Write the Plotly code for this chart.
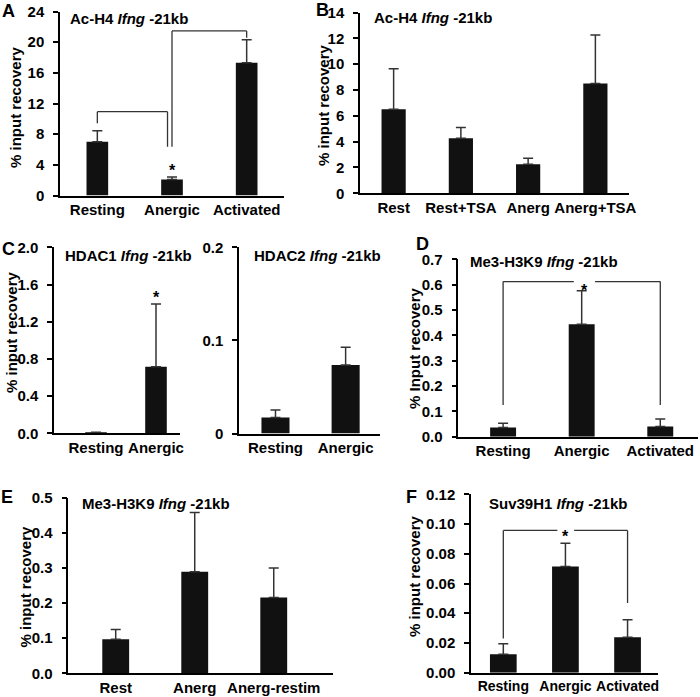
import plotly.graph_objects as go

W, H = 700, 697
FONT = "Liberation Sans, Arial, sans-serif"

# ---------------- data ----------------
a_cats = ["Resting", "Anergic", "Activated"]
a_vals = [7.0, 2.1, 17.3]
a_errs = [1.45, 0.3, 3.0]

b_cats = ["Rest", "Rest+TSA", "Anerg", "Anerg+TSA"]
b_vals = [6.5, 4.26, 2.25, 8.5]
b_errs = [3.15, 0.83, 0.46, 3.75]

c1_cats = ["Resting", "Anergic"]
c1_vals = [0.008, 0.716]
c1_errs = [0.004, 0.675]

c2_cats = ["Resting", "Anergic"]
c2_vals = [0.0172, 0.0736]
c2_errs = [0.008, 0.019]

d_cats = ["Resting", "Anergic", "Activated"]
d_vals = [0.036, 0.444, 0.040]
d_errs = [0.017, 0.132, 0.030]

e_cats = ["Rest", "Anerg", "Anerg-restim"]
e_vals = [0.097, 0.289, 0.216]
e_errs = [0.028, 0.169, 0.084]

f_cats = ["Resting", "Anergic", "Activated"]
f_vals = [0.0124, 0.0715, 0.0239]
f_errs = [0.007, 0.0155, 0.0117]

a_ticks = [0, 4, 8, 12, 16, 20, 24]
b_ticks = [0, 2, 4, 6, 8, 10, 12, 14]
c1_ticks = [0.0, 0.4, 0.8, 1.2, 1.6, 2.0]
c2_ticks = [0, 0.1, 0.2]
c2_labels = ["0", "0.1", "0.2"]
d_ticks = [0.0, 0.1, 0.2, 0.3, 0.4, 0.5, 0.6, 0.7]
e_ticks = [0.0, 0.1, 0.2, 0.3, 0.4, 0.5]
f_ticks = [0.00, 0.02, 0.04, 0.06, 0.08, 0.10, 0.12]


def xd(p0, p1):
    return [p0 / W, p1 / W]


def yd(top, bottom):
    return [(H - bottom) / H, (H - top) / H]


# name, cats, vals, errs, ticks, labels, yrange, xrange, xdomain, ydomain, bar width, x label size
panels = [
    ("A", a_cats, a_vals, a_errs, a_ticks, [str(t) for t in a_ticks], [0, 24], [-0.5, 2.5], xd(60, 284), yd(11.5, 195.5), 0.29, 15),
    ("B", b_cats, b_vals, b_errs, b_ticks, [str(t) for t in b_ticks], [0, 14], [-0.5, 3.5], xd(360, 629), yd(12.5, 193.3), 0.36, 15),
    ("C1", c1_cats, c1_vals, c1_errs, c1_ticks, ["%.1f" % t for t in c1_ticks], [0, 2.0], [-0.7, 1.4], xd(54, 180), yd(247.3, 433.3), 0.36, 15),
    ("C2", c2_cats, c2_vals, c2_errs, c2_ticks, c2_labels, [0, 0.2], [-0.52, 1.49], xd(239, 380), yd(247.3, 433.5), 0.40, 15),
    ("D", d_cats, d_vals, d_errs, d_ticks, ["%.1f" % t for t in d_ticks], [0, 0.7], [-0.57, 2.48], xd(458.3, 698), yd(259.3, 436.7), 0.33, 15),
    ("E", e_cats, e_vals, e_errs, e_ticks, ["%.1f" % t for t in e_ticks], [0, 0.5], [-0.6, 2.75], xd(68.3, 333), yd(497.7, 673.3), 0.34, 15),
    ("F", f_cats, f_vals, f_errs, f_ticks, ["%.2f" % t for t in f_ticks], [0, 0.12], [-0.52, 2.49], xd(471, 658), yd(494.3, 672.7), 0.43, 14),
]

fig = go.Figure()
layout = dict(
    width=W, height=H,
    margin=dict(l=0, r=0, t=0, b=0, autoexpand=False),
    paper_bgcolor="white", plot_bgcolor="white",
    showlegend=False,
    font=dict(family=FONT, color="black"),
)

for i, (name, cats, vals, errs, ticks, tlabels, yr, xr, xdom, ydom, bw, xfs) in enumerate(panels):
    n = i + 1
    xs = "x" if n == 1 else "x%d" % n
    ys = "y" if n == 1 else "y%d" % n
    fig.add_trace(go.Bar(
        x=list(range(len(cats))), y=vals, width=bw,
        marker=dict(color="#111111", line=dict(width=0)),
        error_y=dict(type="data", symmetric=False, array=errs, arrayminus=[0] * len(errs),
                     color="#333333", thickness=1.5, width=5),
        xaxis=xs, yaxis=ys,
    ))
    xk = "xaxis" if n == 1 else "xaxis%d" % n
    yk = "yaxis" if n == 1 else "yaxis%d" % n
    layout[xk] = dict(
        domain=xdom, anchor=ys, range=xr,
        tickmode="array", tickvals=list(range(len(cats))), ticktext=cats,
        showline=True, linecolor="black", linewidth=1.5,
        ticks="", showgrid=False, zeroline=False,
        tickfont=dict(family=FONT, size=xfs, color="black", weight="bold"),
        tickangle=0, automargin=False, fixedrange=True,
    )
    layout[yk] = dict(
        domain=ydom, anchor=xs, range=yr,
        tickmode="array", tickvals=ticks, ticktext=tlabels,
        showline=True, linecolor="black", linewidth=1.5,
        ticks="outside", ticklen=5, tickwidth=1.5, tickcolor="black",
        showgrid=False, zeroline=False,
        tickfont=dict(family=FONT, size=15, color="black", weight="bold"),
        ticklabelstandoff=6, tickangle=0, automargin=False, fixedrange=True,
    )

fig.update_layout(**layout)

annotations = []


def px_ann(text, x, y, size=15, angle=0, xanchor="center"):
    annotations.append(dict(
        text=text, x=x / W, y=(H - y) / H, xref="paper", yref="paper",
        showarrow=False, xanchor=xanchor, yanchor="middle", textangle=angle,
        font=dict(family=FONT, size=size, color="black"),
    ))


# panel letters
for letter, x, y in [("A", 8.5, 11), ("B", 322.5, 9.5), ("C", 8.5, 248.5), ("D", 422.5, 244),
                     ("E", 7, 496.5), ("F", 412, 496.5)]:
    px_ann("<b>%s</b>" % letter, x, y, size=18)

# panel titles
for txt, x, y in [("Ac-H4", 67.7, 18), ("Ac-H4", 372, 17), ("HDAC1", 63, 255), ("HDAC2", 252, 255),
                  ("Me3-H3K9", 468, 261.7), ("Me3-H3K9", 80, 503.3), ("Suv39H1", 486.7, 503.3)]:
    px_ann("<b>%s <i>Ifng</i> -21kb</b>" % txt, x, y, size=15, xanchor="left")

# y-axis titles
for txt, x, y in [("% input recovery", 15, 107), ("% input recovery", 323, 105),
                  ("% input recovery", 11, 332), ("% Input recovery", 414, 348),
                  ("% input recovery", 24.5, 587), ("% input recovery", 414, 576)]:
    px_ann("<b>%s</b>" % txt, x, y, size=15, angle=-90)

shapes = []


def seg(xa, ya, x0, y0, x1, y1):
    shapes.append(dict(type="line", xref=xa, yref=ya, x0=x0, y0=y0, x1=x1, y1=y1,
                       line=dict(color="#333333", width=1.3)))


# Panel A brackets
seg("x", "y", 0, 9.42, 0, 10.93)
seg("x", "y", 0, 10.93, 0.94, 10.93)
seg("x", "y", 0.94, 10.93, 0.94, 6.37)
seg("x", "y", 1.0, 6.37, 1.0, 21.46)
seg("x", "y", 1.0, 21.46, 2.0, 21.46)
seg("x", "y", 2.0, 21.46, 2.0, 20.58)
# Panel D bracket
seg("x5", "y5", 0, 0.125, 0, 0.612)
seg("x5", "y5", 0, 0.612, 0.90, 0.612)
seg("x5", "y5", 1.17, 0.612, 2, 0.612)
seg("x5", "y5", 2, 0.612, 2, 0.125)
# Panel F bracket
seg("x7", "y7", 0, 0.023, 0, 0.0957)
seg("x7", "y7", 0, 0.0957, 0.87, 0.0957)
seg("x7", "y7", 1.14, 0.0957, 2, 0.0957)
seg("x7", "y7", 2, 0.0957, 2, 0.0468)

for xa, ya, x, y in [("x", "y", 1.0, 3.75), ("x3", "y3", 1.0, 1.505),
                     ("x5", "y5", 1.03, 0.592), ("x7", "y7", 1.0, 0.094)]:
    annotations.append(dict(text="<b>*</b>", x=x, y=y, xref=xa, yref=ya, showarrow=False,
                            yanchor="middle", yshift=-4,
                            font=dict(family=FONT, size=16, color="black")))

fig.update_layout(annotations=annotations, shapes=shapes)
fig.write_html(
    "out.html",
    config={"displayModeBar": False},
    post_script="document.body.style.margin='0';document.body.style.overflow='hidden';",
)
